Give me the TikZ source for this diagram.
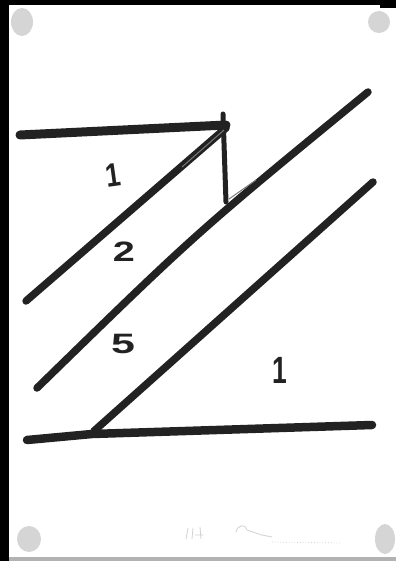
\documentclass[tikz,border=0pt]{standalone}
\usepackage{fontspec}
\setmainfont{Liberation Sans}
\begin{document}
\begin{tikzpicture}[x=1pt,y=-1pt,
  marker/.style={draw=ink,line width=7.5pt,line cap=round,line join=round},
  thinmark/.style={draw=ink!60,line width=1pt},
  digit/.style={text=ink,inner sep=0pt,font=\fontsize{33}{33}\selectfont\bfseries},
  tape/.style={fill=gray!65,opacity=0.5},
  faint/.style={draw=gray!35,line width=0.8pt}]
\definecolor{ink}{HTML}{222222}
\useasboundingbox (0,0) rectangle (396,561);
% frame and paper
\fill[black] (0,0) rectangle (396,561);
\fill[white] (9,5) rectangle (396,557);
\fill[black] (380,0) rectangle (396,8);
\fill[gray!60] (0,557) rectangle (396,561);
\fill[black] (0,0) rectangle (9,561);
% tape smudges
\fill[tape] (22,22) ellipse (11 and 14);
\fill[tape] (379,22) ellipse (11 and 11);
\fill[tape] (29,539) ellipse (12 and 13);
\fill[tape] (385,539) ellipse (10 and 15);
% coordinates
\coordinate (th1) at (20,135);
\coordinate (th2) at (226,125);
\coordinate (v1) at (223,114);
\coordinate (v2) at (226,202);
\coordinate (a1) at (226,128);
\coordinate (a2) at (26,301);
\coordinate (b1) at (368,92);
\coordinate (b2) at (37,388);
\coordinate (bc) at (196,233);
\coordinate (c1) at (373,182);
\coordinate (c2) at (94,431);
\coordinate (h1) at (27,440);
\coordinate (hk) at (92,434);
\coordinate (h2) at (372,425);
% strokes
\draw[marker,line width=9pt] (th1) -- (th2);
\draw[marker,line width=5pt] (v1) -- (v2);
\draw[marker] (a1) -- (a2);
\draw[marker] (b1) .. controls (bc) .. (b2);
\draw[marker] (c1) -- (c2);
\draw[marker,line width=8.5pt] (h1) -- (hk) -- (h2);
% marker texture traces
\coordinate (t1) at (182,167);
\coordinate (t2) at (224,130);
\draw[thinmark] (t1) -- (t2);
\coordinate (t3) at (229,199);
\coordinate (t4) at (256,180);
\draw[thinmark] (t3) -- (t4);
% labels
\node[digit,rotate=8,xscale=0.8] (l1) at (113,175) {1};
\node[digit,xscale=1.2,yscale=0.85] (l2) at (124,252) {2};
\node[digit,xscale=1.3,yscale=0.85] (l3) at (123,344) {5};
\node[digit,xscale=0.8,yscale=1.15] (l4) at (280,370) {1};
% faint signature traces
\draw[faint] (186,539) -- (188,528) (192,539) -- (193,528) (195,535) -- (203,535) (200,527) -- (201,539);
\draw[faint] (236,532) .. controls (238,524) and (246,524) .. (247,530) -- (262,535) -- (272,537);
\draw[faint,dotted] (272,542) -- (340,543);
\end{tikzpicture}
\end{document}
